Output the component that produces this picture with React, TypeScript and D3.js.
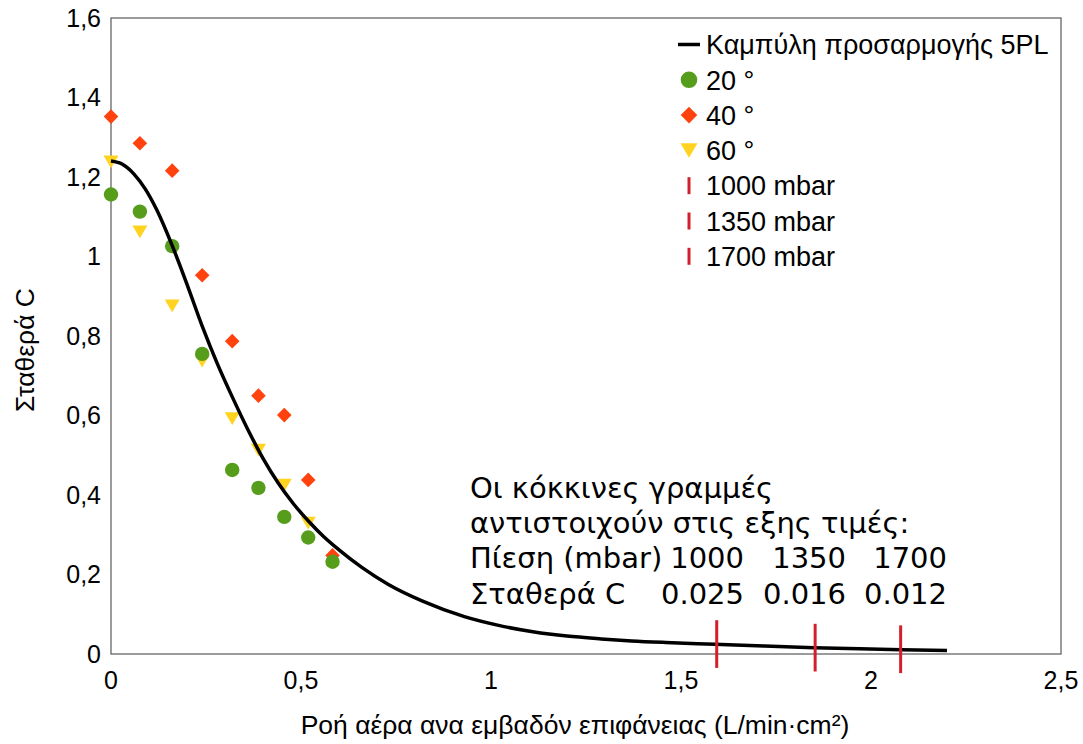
import React from 'react';
import * as d3 from 'd3';

// ---- data ----
const flowX = [0, 0.076, 0.161, 0.24, 0.319, 0.388, 0.456, 0.519, 0.583];
const c20 = [1.156, 1.113, 1.026, 0.755, 0.463, 0.418, 0.345, 0.293, 0.232];
const c40 = [1.352, 1.285, 1.216, 0.953, 0.787, 0.65, 0.601, 0.438, 0.248];
const c60 = [1.238, 1.062, 0.876, 0.737, 0.592, 0.513, 0.425, 0.329];

const fitX = [0, 0.03, 0.06, 0.09, 0.12, 0.16, 0.2, 0.24, 0.28, 0.32, 0.36, 0.4, 0.44, 0.48, 0.52, 0.56, 0.6, 0.66, 0.73, 0.82, 0.93, 1.02, 1.11, 1.2, 1.29, 1.37, 1.46, 1.59, 1.72, 1.85, 1.97, 2.08, 2.2];
const fitC = [1.24, 1.232, 1.208, 1.17, 1.118, 1.03, 0.93, 0.825, 0.73, 0.645, 0.565, 0.492, 0.43, 0.378, 0.334, 0.295, 0.262, 0.218, 0.175, 0.133, 0.094, 0.072, 0.056, 0.045, 0.038, 0.033, 0.029, 0.0245, 0.02, 0.016, 0.013, 0.011, 0.009];

const pressures = [1000, 1350, 1700];
const pressureFlow = [1.594, 1.853, 2.078];
const pressureC = [0.025, 0.016, 0.012];
const pressureErr = [0.06, 0.06, 0.06];

const xTicks = [0, 0.5, 1, 1.5, 2, 2.5];
const yTicks = [0, 0.2, 0.4, 0.6, 0.8, 1, 1.2, 1.4, 1.6];

const legendLabels = ['Καμπύλη προσαρμογής 5PL', '20 °', '40 °', '60 °', '1000 mbar', '1350 mbar', '1700 mbar'];
const noteLines = ['Οι κόκκινες γραμμές', 'αντιστοιχούν στις εξης τιμές:'];
const noteRowLabels = ['Πίεση (mbar)', 'Σταθερά C'];

const GREEN = '#579d1c';
const ORANGE = '#ff420e';
const YELLOW = '#ffd320';
const RED = '#d1202b';

const W = 1083, H = 744;
const L = 111, R = 1061, T = 18, B = 654;

const fmt = (v: number) => String(Math.round(v * 10) / 10).replace('.', ',');

export default function App() {
  const x = d3.scaleLinear().domain([0, 2.5]).range([L, R]);
  const y = d3.scaleLinear().domain([0, 1.6]).range([B, T]);

  const line = d3.line<number>()
    .x((_, i) => x(fitX[i]))
    .y((d) => y(d))
    .curve(d3.curveMonotoneX);

  const circle = (cx: number, cy: number, r: number, key: string) => (
    <circle key={key} cx={cx} cy={cy} r={r} fill={GREEN} />
  );
  const diamond = (cx: number, cy: number, r: number, key: string) => (
    <path key={key} d={`M${cx},${cy - r}L${cx + r},${cy}L${cx},${cy + r}L${cx - r},${cy}Z`} fill={ORANGE} />
  );
  const tri = (cx: number, cy: number, r: number, key: string) => (
    <path key={key} d={`M${cx - r},${cy - r * 0.85}L${cx + r},${cy - r * 0.85}L${cx},${cy + r * 0.85}Z`} fill={YELLOW} />
  );

  const font = 'Liberation Sans, Arial, sans-serif';
  const legX = 689;
  const legY0 = 44.5;
  const legDy = 35.3;
  const colX = [744, 846, 947];

  return (
    <svg width={W} height={H} style={{ position: 'absolute', left: 0, top: 0, background: '#fff' }}>
      <rect x={0} y={0} width={W} height={H} fill="#fff" />
      {/* plot frame */}
      <rect x={L} y={T} width={R - L} height={B - T} fill="none" stroke="#666" strokeWidth={1.3} />

      {/* ticks */}
      {yTicks.map((t) => (
        <text key={'yt' + t} x={101} y={y(t)} dy="0.35em" textAnchor="end" fontFamily={font} fontSize={25} fill="#000">
          {fmt(t)}
        </text>
      ))}
      {xTicks.map((t) => (
        <text key={'xt' + t} x={x(t)} y={689} textAnchor="middle" fontFamily={font} fontSize={25} fill="#000">
          {fmt(t)}
        </text>
      ))}

      {/* axis titles */}
      <text x={575} y={734} textAnchor="middle" fontFamily={font} fontSize={26.5} fill="#000">
        Ροή αέρα ανα εμβαδόν επιφάνειας (L/min·cm²)
      </text>
      <text transform={`translate(34,350) rotate(-90)`} textAnchor="middle" fontFamily={font} fontSize={26.5} fill="#000">
        Σταθερά C
      </text>

      {/* markers */}
      {c40.map((v, i) => diamond(x(flowX[i]), y(v), 7.3, 'd' + i))}
      {c60.map((v, i) => tri(x(flowX[i]), y(v), 7.5, 't' + i))}
      {c20.map((v, i) => circle(x(flowX[i]), y(v), 7.2, 'c' + i))}

      {/* fitted curve */}
      <path d={line(fitC) || ''} fill="none" stroke="#000" strokeWidth={3.5} />

      {/* pressure bars */}
      {pressures.map((p, i) => (
        <line key={'p' + p} x1={x(pressureFlow[i])} x2={x(pressureFlow[i])}
          y1={y(pressureC[i] + pressureErr[i])} y2={y(pressureC[i] - pressureErr[i])}
          stroke={RED} strokeWidth={3} />
      ))}

      {/* note */}
      <g fontFamily="DejaVu Sans, sans-serif" fontSize={29} fill="#000">
        <text x={470} y={498}>{noteLines[0]}</text>
        <text x={470} y={533}>{noteLines[1]}</text>
        <text x={470} y={568}>{noteRowLabels[0]}</text>
        <text x={470} y={604}>{noteRowLabels[1]}</text>
        {pressures.map((p, i) => (
          <text key={'np' + p} x={colX[i]} y={568} textAnchor="end">{p}</text>
        ))}
        {pressureC.map((c, i) => (
          <text key={'nc' + i} x={colX[i]} y={604} textAnchor="end">{c.toFixed(3)}</text>
        ))}
      </g>

      {/* legend */}
      {legendLabels.map((lab, i) => {
        const cy = legY0 + i * legDy;
        let sym: React.ReactNode = null;
        if (i === 0) sym = <line x1={678} x2={700} y1={cy} y2={cy} stroke="#000" strokeWidth={3.5} />;
        else if (i === 1) sym = circle(legX, cy, 8.3, 'lc');
        else if (i === 2) sym = diamond(legX, cy, 8.3, 'ld');
        else if (i === 3) sym = tri(legX, cy, 8.5, 'lt');
        else sym = <line x1={legX} x2={legX} y1={cy - 8.5} y2={cy + 8.5} stroke={RED} strokeWidth={3} />;
        return (
          <g key={'lg' + i}>
            {sym}
            <text x={706} y={cy} dy="0.36em" fontFamily={font} fontSize={27} fill="#000">{lab}</text>
          </g>
        );
      })}
    </svg>
  );
}
